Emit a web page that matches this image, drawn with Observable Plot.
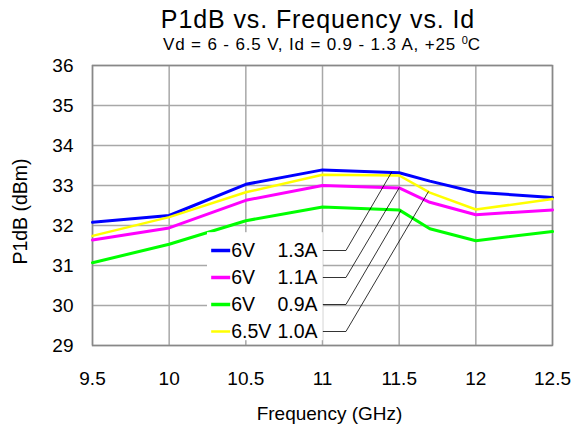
<!DOCTYPE html>
<html>
<head>
<meta charset="utf-8">
<script src="https://cdn.jsdelivr.net/npm/d3@7"></script>
<script src="https://cdn.jsdelivr.net/npm/@observablehq/plot@0.6"></script>
<style>
  html, body { margin: 0; padding: 0; background: white; }
  #wrap { position: relative; width: 585px; height: 429px; font-family: "Liberation Sans", Arial, sans-serif; color: #000; }
  .title { position: absolute; left: 318px; top: 6.5px; transform: translateX(-50%); font-size: 25px; letter-spacing: 0.9px; line-height: 1; white-space: nowrap; }
  .subtitle { position: absolute; left: 322px; top: 35.5px; transform: translateX(-50%); font-size: 17px; letter-spacing: 0.85px; line-height: 1; white-space: nowrap; }
  .subtitle sup { font-size: 11px; vertical-align: 6px; line-height: 0; letter-spacing: 0; }
  #plot { position: absolute; left: 0; top: 55px; }
  #plot g[aria-label="x-title"] text { letter-spacing: 0.8px; }
  #plot g[aria-label="y-title"] text { letter-spacing: 1.5px; }
</style>
</head>
<body>
<div id="wrap">
  <div class="title">P1dB vs. Frequency vs. Id</div>
  <div class="subtitle">Vd = 6 - 6.5 V, Id = 0.9 - 1.3 A, +25 <sup>0</sup>C</div>
  <div id="plot"></div>
</div>
<script>
// ---- data ----
const freqs = [9.5, 10, 10.5, 11, 11.5, 11.7, 12, 12.5];
const p1dB_6V_13A = [32.08, 32.25, 33.03, 33.39, 33.32, 33.11, 32.83, 32.70];
const p1dB_6V_11A = [31.64, 31.94, 32.63, 33.00, 32.94, 32.58, 32.27, 32.39];
const p1dB_6V_09A = [31.07, 31.53, 32.12, 32.46, 32.39, 31.92, 31.62, 31.85];
const p1dB_65V_10A = [31.74, 32.21, 32.83, 33.27, 33.25, 32.82, 32.40, 32.66];
const voltages = ["6V", "6V", "6V", "6.5V"];
const currents = ["1.3A", "1.1A", "0.9A", "1.0A"];
const colors = ["#0000ff", "#ff00ff", "#00ff00", "#ffff00"];
const xTicks = [9.5, 10, 10.5, 11, 11.5, 12, 12.5];
const yTicks = [29, 30, 31, 32, 33, 34, 35, 36];
// where each leader line touches its curve (GHz)
const leaderAt = [11.45, 11.5, 11.51, 11.69];

// ---- build ----
const seriesVals = [p1dB_6V_13A, p1dB_6V_11A, p1dB_6V_09A, p1dB_65V_10A];
const rows = seriesVals.flatMap((vals, s) => vals.map((v, i) => ({s, x: freqs[i], y: v})));
const interp = (vals, x) => {
  for (let i = 0; i < freqs.length - 1; i++) {
    if (x >= freqs[i] && x <= freqs[i + 1]) {
      const t = (x - freqs[i]) / (freqs[i + 1] - freqs[i]);
      return vals[i] + t * (vals[i + 1] - vals[i]);
    }
  }
  return vals[vals.length - 1];
};
// legend layout (data units)
const legTop = 31.375, legStep = 0.675;
const legend = voltages.map((v, i) => ({i, y: legTop - i * legStep, v, c: currents[i]}));
const leaders = legend.flatMap(d => [
  {i: d.i, x: 11.005, y: d.y},
  {i: d.i, x: 11.153, y: d.y},
  {i: d.i, x: leaderAt[d.i], y: interp(seriesVals[d.i], leaderAt[d.i])}
]);

const chart = Plot.plot({
  width: 585,
  height: 374,
  marginTop: 10,
  marginBottom: 84,
  marginLeft: 92,
  marginRight: 33,
  style: {fontFamily: "Liberation Sans, Arial, sans-serif", fontSize: "19px", background: "white", color: "#000"},
  x: {domain: [9.5, 12.5]},
  y: {domain: [29, 36]},
  marks: [
    Plot.gridX(xTicks, {stroke: "#a8a8a8", strokeOpacity: 1, strokeWidth: 1.5}),
    Plot.gridY(yTicks, {stroke: "#a8a8a8", strokeOpacity: 1, strokeWidth: 1.5}),
    Plot.frame({stroke: "#888888", strokeWidth: 1.5}),
    Plot.axisX(xTicks, {tickSize: 0, tickPadding: 26, tickFormat: d => String(d), fontSize: 19}),
    Plot.axisY(yTicks, {tickSize: 0, tickPadding: 19, tickFormat: d => String(d), fontSize: 19}),
    Plot.text(["Frequency (GHz)"], {ariaLabel: "x-title", frameAnchor: "bottom", textAnchor: "middle", dx: 7, dy: 68, fontSize: 19, lineAnchor: "middle"}),
    Plot.text(["P1dB (dBm)"], {ariaLabel: "y-title", frameAnchor: "left", textAnchor: "middle", dx: -72, dy: 6, rotate: -90, fontSize: 19.5, lineAnchor: "middle"}),
    Plot.line(rows, {x: "x", y: "y", z: "s", stroke: d => colors[d.s], strokeWidth: d => d.s === 3 ? 2.5 : 3, strokeLinejoin: "round"}),
    // legend
    Plot.rect([{x1: 10.25, x2: 11.005, y1: 29.12, y2: 31.82}], {x1: "x1", x2: "x2", y1: "y1", y2: "y2", fill: "white"}),
    Plot.link(legend, {x1: 10.274, x2: 10.398, y1: "y", y2: "y", stroke: d => colors[d.i], strokeWidth: d => d.i === 3 ? 2.5 : 3.5}),
    Plot.text(legend, {x: 10.405, y: "y", text: "v", textAnchor: "start", fontSize: 19.5, lineAnchor: "middle"}),
    Plot.text(legend, {x: 10.968, y: "y", text: "c", textAnchor: "end", fontSize: 19.5, lineAnchor: "middle"}),
    Plot.line(leaders, {x: "x", y: "y", z: "i", stroke: "#000", strokeWidth: 0.8})
  ]
});
document.getElementById("plot").appendChild(chart);
</script>
</body>
</html>
